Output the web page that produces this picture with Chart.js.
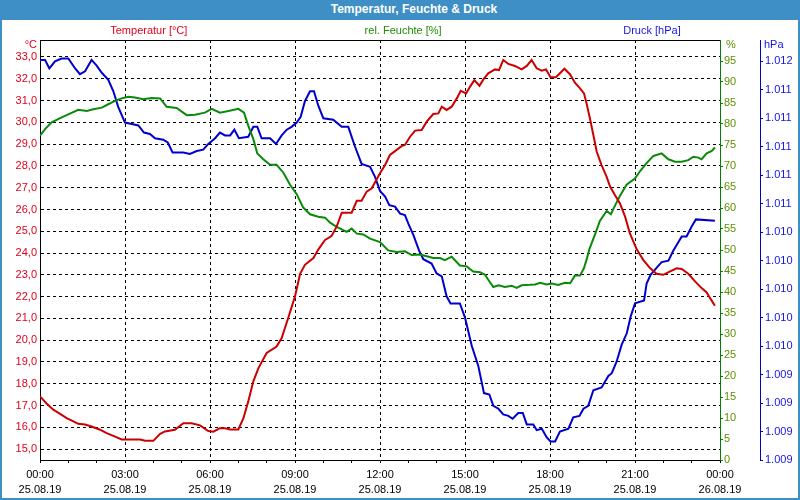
<!doctype html>
<html>
<head>
<meta charset="utf-8">
<title>Temperatur, Feuchte &amp; Druck</title>
<script src="https://cdn.jsdelivr.net/npm/chart.js@4.4.1/dist/chart.umd.min.js"></script>
<style>
  html, body { margin: 0; padding: 0; background: #fff; }
  #frame {
    width: 800px; height: 500px; box-sizing: border-box;
    border: 2px solid #3d8fc6; border-top: none; background: #fff;
  }
  #titlebar {
    height: 20px; margin: 0 -2px; padding-left: 28px;
    background: #3d8fc6; color: #fff; text-align: center;
    font: bold 12px "Liberation Sans", Arial, sans-serif; line-height: 19px;
  }
  canvas { display: block; }
</style>
</head>
<body>
<div id="frame">
  <div id="titlebar">Temperatur, Feuchte &amp; Druck</div>
  <canvas id="chart" width="796" height="478"></canvas>
</div>
<script>
// hours since 25.08.19 00:00
const tempHours = [0, 0.24, 0.47, 0.71, 0.94, 1.18, 1.35, 1.59, 1.82, 2.12, 2.35, 2.59, 2.88, 3.53, 3.71, 4.0,
  4.24, 4.41, 4.76, 5.06, 5.35, 5.65, 5.94, 6.12, 6.35, 6.53, 6.71, 7.0, 7.18, 7.35, 7.53, 7.71, 8.0, 8.35, 8.53,
  8.76, 9.0, 9.18, 9.35, 9.65, 9.82, 10.06, 10.29, 10.47, 10.65, 11.0, 11.18, 11.35, 11.53, 11.71, 12.0, 12.18,
  12.35, 12.53, 12.76, 12.88, 13.06, 13.24, 13.47, 13.65, 13.88, 14.06, 14.18, 14.35, 14.53, 14.71, 14.85, 15.04,
  15.18, 15.33, 15.51, 15.65, 15.82, 16.06, 16.2, 16.35, 16.53, 16.76, 17.0, 17.18, 17.35, 17.53, 17.71, 17.86,
  18.02, 18.21, 18.35, 18.51, 18.71, 18.88, 19.06, 19.2, 19.29, 19.41, 19.53, 19.65, 19.82, 20.0, 20.12, 20.29,
  20.47, 20.65, 20.82, 21.06, 21.29, 21.53, 21.76, 22.0, 22.24, 22.47, 22.65, 22.88, 23.12, 23.35, 23.53, 23.65, 23.82];
const tempValues = [17.42, 17.08, 16.81, 16.62, 16.42, 16.27, 16.16, 16.13, 16.04, 15.89, 15.73, 15.61, 15.44, 15.44,
  15.38, 15.38, 15.70, 15.81, 15.89, 16.19, 16.19, 16.09, 15.83, 15.80, 15.96, 15.96, 15.90, 15.90, 16.42, 17.19,
  18.11, 18.72, 19.41, 19.71, 20.10, 21.02, 22.01, 23.05, 23.46, 23.77, 24.16, 24.6, 24.78, 25.21, 25.85, 25.85,
  26.40, 26.40, 26.82, 26.97, 27.66, 28.04, 28.50, 28.68, 28.91, 28.96, 29.34, 29.62, 29.65, 30.03, 30.38, 30.41,
  30.72, 30.57, 30.72, 31.10, 31.45, 31.33, 31.64, 31.94, 31.68, 31.97, 32.25, 32.43, 32.40, 32.86, 32.68, 32.59,
  32.43, 32.59, 32.86, 32.48, 32.37, 32.43, 32.07, 32.07, 32.25, 32.46, 32.20, 31.82, 31.56, 31.33, 30.87, 30.18,
  29.42, 28.65, 28.04, 27.50, 27.05, 26.66, 26.28, 25.67, 24.90, 24.17, 23.69, 23.31, 23.05, 23.0, 23.16, 23.30,
  23.27, 23.05, 22.70, 22.39, 22.19, 21.93, 21.58];

const humHours = [0, 0.18, 0.41, 0.71, 1.0, 1.35, 1.65, 1.88, 2.18, 2.41, 2.65, 2.88, 3.12, 3.35, 3.65, 3.94, 4.24,
  4.47, 4.82, 5.18, 5.47, 5.82, 6.06, 6.35, 6.65, 7.0, 7.2, 7.35, 7.53, 7.67, 7.88, 8.12, 8.35, 8.59, 8.82, 9.06,
  9.29, 9.53, 9.82, 10.06, 10.24, 10.47, 10.65, 10.82, 11.0, 11.18, 11.41, 11.65, 12.0, 12.29, 12.59, 12.88, 13.12,
  13.41, 13.65, 13.88, 14.12, 14.29, 14.53, 14.82, 15.06, 15.29, 15.53, 15.71, 15.82, 16.0, 16.18, 16.41, 16.65,
  16.82, 17.0, 17.29, 17.47, 17.65, 17.88, 18.06, 18.29, 18.53, 18.71, 18.88, 19.06, 19.2, 19.29, 19.39, 19.59,
  19.76, 20.0, 20.15, 20.29, 20.47, 20.71, 21.0, 21.18, 21.41, 21.65, 21.94, 22.18, 22.41, 22.65, 22.88, 23.06,
  23.24, 23.35, 23.53, 23.71, 23.82];
const humValues = [77.2, 78.8, 80.4, 81.4, 82.3, 83.4, 83.1, 83.5, 83.9, 84.7, 85.5, 86.1, 86.5, 86.3, 85.9, 86.2,
  86.1, 84.1, 83.8, 82.1, 82.2, 82.7, 83.6, 82.7, 83.1, 83.6, 82.7, 79.6, 76.4, 73.0, 71.6, 70.3, 70.3, 68.4, 65.6,
  63.3, 60.1, 58.5, 57.9, 57.7, 56.5, 55.5, 54.9, 54.3, 55.1, 53.9, 53.7, 52.7, 51.9, 49.9, 49.5, 49.7, 48.8, 48.9,
  48.5, 48.1, 48.1, 47.6, 48.4, 46.3, 46.1, 44.9, 44.7, 44.1, 42.9, 41.2, 41.6, 41.2, 41.5, 41.0, 41.6, 41.7, 41.8,
  42.2, 41.8, 42.0, 41.7, 42.2, 42.1, 43.9, 43.9, 45.7, 47.7, 50.2, 53.7, 56.9, 59.3, 58.5, 60.5, 62.9, 65.6, 67.0,
  68.8, 70.7, 72.4, 73.0, 71.6, 71.0, 71.0, 71.4, 72.2, 72.0, 71.6, 73.0, 73.6, 74.4];

const presHours = [0, 0.18, 0.33, 0.53, 0.76, 1.0, 1.24, 1.41, 1.59, 1.82, 2.0, 2.18, 2.41, 2.59, 2.76, 3.0, 3.24,
  3.47, 3.67, 3.88, 4.06, 4.35, 4.51, 4.68, 5.06, 5.29, 5.53, 5.76, 5.94, 6.18, 6.35, 6.53, 6.71, 6.86, 7.02, 7.35,
  7.53, 7.67, 7.82, 8.12, 8.33, 8.53, 8.71, 8.88, 9.06, 9.2, 9.35, 9.53, 9.67, 9.82, 10.0, 10.35, 10.65, 10.88,
  11.12, 11.35, 11.65, 11.82, 12.0, 12.18, 12.33, 12.53, 12.71, 12.88, 13.0, 13.18, 13.38, 13.53, 13.82, 14.0,
  14.18, 14.35, 14.49, 14.82, 15.0, 15.24, 15.47, 15.67, 15.86, 16.0, 16.18, 16.35, 16.53, 16.68, 16.88, 17.04,
  17.18, 17.41, 17.53, 17.71, 17.88, 18.02, 18.18, 18.35, 18.65, 18.82, 19.04, 19.18, 19.35, 19.53, 19.82, 20.06,
  20.18, 20.35, 20.53, 20.71, 20.85, 21.0, 21.32, 21.41, 21.55, 21.76, 21.94, 22.18, 22.35, 22.65, 22.82, 23.0,
  23.15, 23.82];
const presValues = [1011.61, 1011.61, 1011.55, 1011.60, 1011.62, 1011.62, 1011.55, 1011.51, 1011.53, 1011.61,
  1011.57, 1011.52, 1011.47, 1011.39, 1011.28, 1011.17, 1011.16, 1011.15, 1011.10, 1011.09, 1011.06, 1011.05,
  1011.03, 1010.96, 1010.96, 1010.95, 1010.97, 1010.98, 1011.02, 1011.06, 1011.10, 1011.08, 1011.08, 1011.12,
  1011.06, 1011.07, 1011.14, 1011.14, 1011.06, 1011.06, 1011.02, 1011.08, 1011.12, 1011.14, 1011.17, 1011.21,
  1011.32, 1011.39, 1011.39, 1011.29, 1011.20, 1011.19, 1011.14, 1011.14, 1011.00, 1010.88, 1010.86, 1010.79,
  1010.69, 1010.65, 1010.59, 1010.58, 1010.53, 1010.52, 1010.46, 1010.38, 1010.27, 1010.21, 1010.18, 1010.11,
  1010.09, 1009.95, 1009.90, 1009.90, 1009.80, 1009.60, 1009.46, 1009.27, 1009.26, 1009.18, 1009.16, 1009.12,
  1009.11, 1009.09, 1009.13, 1009.13, 1009.05, 1009.05, 1009.01, 1009.02, 1008.96, 1008.93, 1008.93, 1009.00,
  1009.02, 1009.10, 1009.11, 1009.16, 1009.18, 1009.29, 1009.31, 1009.39, 1009.41, 1009.49, 1009.61, 1009.69,
  1009.81, 1009.90, 1009.92, 1010.04, 1010.10, 1010.15, 1010.19, 1010.20, 1010.27, 1010.37, 1010.37, 1010.44,
  1010.49, 1010.48];

// axis ticks
const hourTicks = [0, 1, 2, 3, 4, 5, 6, 7, 8, 9, 10, 11, 12, 13, 14, 15, 16, 17, 18, 19, 20, 21, 22, 23, 24];
const timeLabels = { 0: '00:00', 3: '03:00', 6: '06:00', 9: '09:00', 12: '12:00', 15: '15:00', 18: '18:00', 21: '21:00', 24: '00:00' };
const dateLabels = { 0: '25.08.19', 3: '25.08.19', 6: '25.08.19', 9: '25.08.19', 12: '25.08.19', 15: '25.08.19', 18: '25.08.19', 21: '25.08.19', 24: '26.08.19' };
const tempTicks = [15, 16, 17, 18, 19, 20, 21, 22, 23, 24, 25, 26, 27, 28, 29, 30, 31, 32, 33];
const humTicks = [0, 5, 10, 15, 20, 25, 30, 35, 40, 45, 50, 55, 60, 65, 70, 75, 80, 85, 90, 95];
const presTicks = [1008.8, 1009.0, 1009.2, 1009.4, 1009.6, 1009.8, 1010.0, 1010.2, 1010.4, 1010.6, 1010.8,
  1011.0, 1011.2, 1011.4, 1011.6];

const RED = '#cc0000', RED_TXT = '#e0001a';
const GREEN = '#0a8a0a', GREEN_TXT = '#5c9000', GREEN_HDR = '#1e8c00';
const BLUE = '#0000cc', BLUE_TXT = '#1414e6';

const fmtTemp = v => Number(v).toFixed(1).replace('.', ',');
const fmtPres = v => {
  const r = String(Math.round(v));
  return r.slice(0, -3) + '.' + r.slice(-3);
};
const setTicks = list => scale => { scale.ticks = list.map(v => ({ value: v })); };

Chart.defaults.font.family = '"Liberation Sans", Arial, sans-serif';
Chart.defaults.font.size = 11;

// headers and unit captions drawn around the plot
const captions = {
  id: 'captions',
  afterDraw(chart) {
    const { ctx, chartArea: a, scales } = chart;
    ctx.save();
    ctx.strokeStyle = '#000';
    ctx.lineWidth = 1;
    ctx.beginPath();
    ctx.moveTo(a.left, a.top + 0.5);
    ctx.lineTo(a.right, a.top + 0.5);
    ctx.stroke();

    ctx.font = '11px "Liberation Sans", Arial, sans-serif';
    ctx.textBaseline = 'middle';
    ctx.textAlign = 'center';
    const hy = a.top - 9;
    const w = a.right - a.left;
    ctx.fillStyle = RED_TXT;
    ctx.fillText('Temperatur [°C]', a.left + w * 0.16, hy);
    ctx.fillStyle = GREEN_HDR;
    ctx.fillText('rel. Feuchte [%]', a.left + w * 0.534, hy);
    ctx.fillStyle = BLUE_TXT;
    ctx.fillText('Druck [hPa]', a.left + w * 0.9, hy);

    const uy = a.top + 5;
    ctx.textAlign = 'right';
    ctx.fillStyle = RED_TXT;
    ctx.fillText('°C', scales.yT.right - 3, uy);
    ctx.textAlign = 'left';
    ctx.fillStyle = GREEN_TXT;
    ctx.fillText('%', scales.yH.left + 6, uy);
    ctx.fillStyle = BLUE_TXT;
    ctx.fillText('hPa', scales.yP.left + 4, uy);
    ctx.restore();
  }
};

const toPoints = (xs, ys) => xs.map((x, i) => ({ x: x, y: ys[i] }));

new Chart(document.getElementById('chart'), {
  type: 'line',
  data: {
    datasets: [{
      label: 'Temperatur [°C]',
      data: toPoints(tempHours, tempValues),
      yAxisID: 'yT',
      borderColor: RED,
      borderWidth: 2,
      pointRadius: 0,
      tension: 0
    }, {
      label: 'rel. Feuchte [%]',
      data: toPoints(humHours, humValues),
      yAxisID: 'yH',
      borderColor: GREEN,
      borderWidth: 2,
      pointRadius: 0,
      tension: 0
    }, {
      label: 'Druck [hPa]',
      data: toPoints(presHours, presValues),
      yAxisID: 'yP',
      borderColor: BLUE,
      borderWidth: 2,
      pointRadius: 0,
      tension: 0
    }]
  },
  options: {
    responsive: false,
    animation: false,
    layout: { padding: { top: 20 } },
    plugins: {
      legend: { display: false },
      title: { display: false },
      tooltip: { enabled: false }
    },
    scales: {
      x: {
        type: 'linear',
        min: 0,
        max: 24,
        afterBuildTicks: setTicks(hourTicks),
        afterFit: s => { s.height = 38; },
        ticks: {
          autoSkip: false,
          maxRotation: 0,
          padding: 4,
          color: '#000',
          font: { lineHeight: 15 / 11 },
          callback: v => timeLabels[v] ? [timeLabels[v], dateLabels[v]] : ''
        },
        grid: {
          color: c => (c.tick && c.tick.value % 3 === 0 && c.tick.value > 0 && c.tick.value < 24) ? '#000' : 'rgba(0,0,0,0)',
          tickColor: '#000',
          tickLength: 3
        },
        border: { color: '#000', dash: [3, 3] }
      },
      yT: {
        position: 'left',
        min: 14.5,
        max: 33.78,
        afterBuildTicks: setTicks(tempTicks),
        afterFit: s => { s.width = 38; },
        ticks: { color: RED_TXT, padding: 3, callback: fmtTemp },
        grid: { color: '#000', drawTicks: false },
        border: { color: '#000', dash: [3, 3] }
      },
      yH: {
        position: 'right',
        weight: 0,
        min: 0,
        max: 100,
        afterBuildTicks: setTicks(humTicks),
        afterFit: s => { s.width = 40; },
        ticks: { color: GREEN_TXT, padding: 1 },
        grid: { drawOnChartArea: false, color: '#008000', tickLength: 3 },
        border: { color: '#008000' }
      },
      yP: {
        position: 'right',
        weight: 1,
        min: 1008.8,
        max: 1011.75,
        afterBuildTicks: setTicks(presTicks),
        afterFit: s => { s.width = 38; },
        ticks: { color: BLUE_TXT, padding: 2, callback: fmtPres },
        grid: { drawOnChartArea: false, color: BLUE, tickLength: 3 },
        border: { color: BLUE }
      }
    }
  },
  plugins: [captions]
});
</script>
</body>
</html>
